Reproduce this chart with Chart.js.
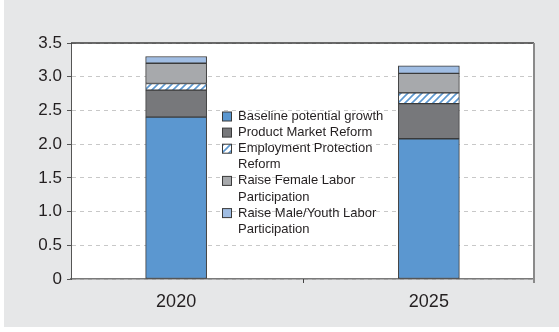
<!DOCTYPE html>
<html>
<head>
<meta charset="utf-8">
<script src="https://cdn.jsdelivr.net/npm/chart.js@4/dist/chart.umd.min.js"></script>
<style>
  html, body { margin: 0; padding: 0; background: #fff; }
  #panel {
    position: absolute; left: 4px; top: 0;
    width: 555px; height: 327px;
    background: #e6e7e8;
  }
</style>
</head>
<body>
<div id="panel"><canvas id="chart" width="555" height="327"></canvas></div>
<script>
const years = ["2020", "2025"];

// legend text, one entry per line
const seriesNames = [
  ["Baseline potential growth"],
  ["Product Market Reform"],
  ["Employment Protection", "Reform"],
  ["Raise Female Labor", "Participation"],
  ["Raise Male/Youth Labor", "Participation"],
];

const baseline = [2.4, 2.08];
const productMarket = [0.4, 0.52];
const employmentProtection = [0.1, 0.16];
const femaleLabor = [0.3, 0.29];
const maleYouthLabor = [0.1, 0.11];

const yTicks = [0, 0.5, 1.0, 1.5, 2.0, 2.5, 3.0, 3.5];

const TEXT = "#231f20";
const BLUE = "#5b97d0";

function hatchPattern() {
  const c = document.createElement("canvas");
  c.width = 7;
  c.height = 7;
  const g = c.getContext("2d");
  g.fillStyle = "#fff";
  g.fillRect(0, 0, 7, 7);
  g.strokeStyle = BLUE;
  g.lineWidth = 1.6;
  g.beginPath();
  g.moveTo(-1, 8); g.lineTo(8, -1);
  g.moveTo(-4, 4); g.lineTo(4, -4);
  g.moveTo(3, 11); g.lineTo(11, 3);
  g.stroke();
  return g.createPattern(c, "repeat");
}

const hatch = hatchPattern();
const fills = [BLUE, "#77787b", hatch, "#a7a9ac", "#a0bde3"];
const values = [baseline, productMarket, employmentProtection, femaleLabor, maleYouthLabor];

const datasets = values.map((vals, i) => ({
  label: seriesNames[i].join(" "),
  data: vals.map((v, j) => ({ x: j, y: v })),
  backgroundColor: fills[i],
  borderColor: "#3a3a3a",
  borderWidth: 1,
  borderSkipped: false,
  barThickness: 61,
}));

const frame = {
  id: "frame",
  beforeDraw(chart) {
    const { ctx, chartArea: a } = chart;
    ctx.save();
    ctx.fillStyle = "#fff";
    ctx.fillRect(a.left, a.top, a.right - a.left, a.bottom - a.top);
    ctx.restore();
  },
  afterDraw(chart) {
    const { ctx, chartArea: a } = chart;
    const x = chart.scales.x;
    ctx.save();
    // top and right border
    ctx.strokeStyle = "#3d3d3d";
    ctx.lineWidth = 1.5;
    ctx.beginPath();
    ctx.moveTo(a.left, a.top);
    ctx.lineTo(a.right, a.top);
    ctx.stroke();
    ctx.strokeStyle = "#8a8a8a";
    ctx.lineWidth = 2;
    ctx.beginPath();
    ctx.moveTo(a.right, a.top);
    ctx.lineTo(a.right, a.bottom + 4);
    ctx.stroke();
    // category divider tick
    const mid = Math.round(x.getPixelForValue(0.5)) + 0.5;
    ctx.strokeStyle = "#444";
    ctx.lineWidth = 1;
    ctx.beginPath();
    ctx.moveTo(mid, a.bottom);
    ctx.lineTo(mid, a.bottom + 4);
    ctx.stroke();

    // legend
    const boxX = 218, textX = 234, lineH = 16.1;
    let y = 116.5;
    ctx.font = "13px 'Liberation Sans', Arial, sans-serif";
    ctx.textBaseline = "middle";
    chart.data.datasets.forEach((ds, i) => {
      ctx.fillStyle = ds.backgroundColor;
      ctx.fillRect(boxX, y - 4.5, 10, 9);
      ctx.strokeStyle = "#3a3a3a";
      ctx.lineWidth = 1;
      ctx.strokeRect(boxX + 0.5, y - 4.5, 9, 9);
      ctx.fillStyle = TEXT;
      seriesNames[i].forEach((line) => {
        ctx.fillText(line, textX, y);
        y += lineH;
      });
    });
    ctx.restore();
  },
};

new Chart(document.getElementById("chart"), {
  type: "bar",
  data: { datasets },
  options: {
    responsive: false,
    animation: false,
    layout: { padding: { top: 43, right: 25, left: 0, bottom: 0 } },
    plugins: { legend: { display: false }, tooltip: { enabled: false } },
    scales: {
      x: {
        type: "linear",
        stacked: true,
        offset: false,
        min: -0.416,
        max: 1.416,
        afterBuildTicks(scale) {
          scale.ticks = years.map((_, i) => ({ value: i }));
        },
        afterFit(scale) {
          scale.height = 48;
        },
        ticks: {
          callback: (v) => years[v],
          color: TEXT,
          font: { family: "'Liberation Sans', Arial, sans-serif", size: 18 },
          padding: 4,
          maxRotation: 0,
        },
        grid: { display: false },
        border: { display: true, color: "#7a7a7a", width: 1.5 },
      },
      y: {
        stacked: true,
        min: 0,
        max: 3.5,
        afterBuildTicks(scale) {
          scale.ticks = yTicks.map((v) => ({ value: v }));
        },
        afterFit(scale) {
          scale.width = 67;
        },
        ticks: {
          callback: (v) => (v === 0 ? "0" : v.toFixed(1)),
          color: TEXT,
          font: { family: "'Liberation Sans', Arial, sans-serif", size: 17 },
          padding: 5,
        },
        grid: {
          color: "#c8c8c8",
          lineWidth: 1,
          tickLength: 4,
          tickColor: "#555",
          tickBorderDash: [],
        },
        border: { display: true, color: "#555", width: 1, dash: [4, 4] },
      },
    },
  },
  plugins: [frame],
});
</script>
</body>
</html>
